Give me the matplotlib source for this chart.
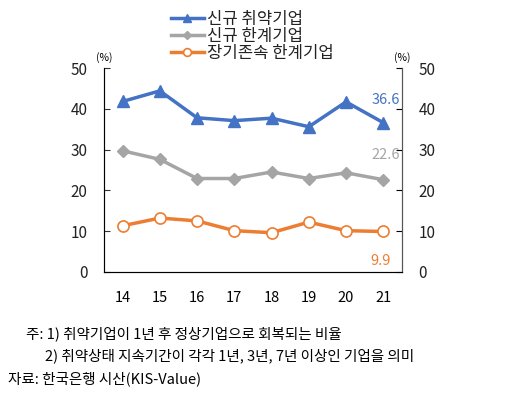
import matplotlib
matplotlib.use("Agg")
import matplotlib.pyplot as plt

plt.rcParams['font.family'] = ['Noto Sans CJK KR', 'DejaVu Sans']

years = [14, 15, 16, 17, 18, 19, 20, 21]
weak_new = [41.8, 44.4, 37.8, 37.1, 37.7, 35.6, 41.7, 36.6]      # 신규 취약기업
marginal_new = [29.7, 27.6, 22.9, 22.9, 24.5, 22.9, 24.3, 22.6]   # 신규 한계기업
marginal_long = [11.3, 13.2, 12.5, 10.1, 9.6, 12.2, 10.1, 9.9]    # 장기존속 한계기업
labels = ["신규 취약기업", "신규 한계기업", "장기존속 한계기업"]

blue = "#4472C4"
gray = "#A5A5A5"
orange = "#ED7D31"

fig = plt.figure(figsize=(5.12, 3.98), dpi=100)
ax = fig.add_axes([0.203, 0.317, 0.582, 0.512])

ax.plot(years, weak_new, color=blue, lw=2.5, marker="^", ms=9, label=labels[0])
ax.plot(years, marginal_new, color=gray, lw=2.5, marker="D", ms=6, label=labels[1])
ax.plot(years, marginal_long, color=orange, lw=2.5, marker="o", ms=8,
        markerfacecolor="white", markeredgewidth=1.2, label=labels[2])

ax.set_xlim(13.5, 21.5)
ax.set_ylim(0, 50)
ax.set_xticks(years)
ax.set_yticks([0, 10, 20, 30, 40, 50])
ax.tick_params(axis="y", direction="in", length=4, labelsize=11, colors="#333333",
               labelcolor="#222222", pad=12)
ax.tick_params(axis="x", length=0, labelsize=10.5, pad=14)
ax.spines["top"].set_visible(False)
for s in ["left", "right", "bottom"]:
    ax.spines[s].set_color("#555555")

ax2 = ax.twinx()
ax2.set_ylim(0, 50)
ax2.set_yticks([0, 10, 20, 30, 40, 50])
ax2.tick_params(axis="y", direction="in", length=4, labelsize=11, labelcolor="#222222", pad=12)
ax2.spines["top"].set_visible(False)
ax2.spines["right"].set_color("#555555")

# 끝값 라벨
ax.text(21.45, weak_new[-1] + 5.6, "36.6", color=blue, ha="right", va="center", fontsize=10.5)
ax.text(21.45, marginal_new[-1] + 6.0, "22.6", color=gray, ha="right", va="center", fontsize=10.5)
ax.text(21.2, marginal_long[-1] - 7.3, "9.9", color=orange, ha="right", va="center", fontsize=10.5)

fig.text(0.203, 0.848, "(%)", ha="center", fontsize=7.5)
fig.text(0.785, 0.848, "(%)", ha="center", fontsize=7.5)

fig.legend(loc="upper left", bbox_to_anchor=(0.32, 0.99), frameon=False,
           fontsize=12, handlelength=2.0, handletextpad=0.2, labelspacing=0.0,
           markerscale=0.7, borderaxespad=0, labelcolor="#222222")

fig.text(0.05, 0.15, "주: 1) 취약기업이 1년 후 정상기업으로 회복되는 비율", fontsize=10.5)
fig.text(0.088, 0.094, "2) 취약상태 지속기간이 각각 1년, 3년, 7년 이상인 기업을 의미", fontsize=10.5)
fig.text(0.015, 0.038, "자료: 한국은행 시산(KIS-Value)", fontsize=10.5)

fig.savefig("out.png", dpi=100)
